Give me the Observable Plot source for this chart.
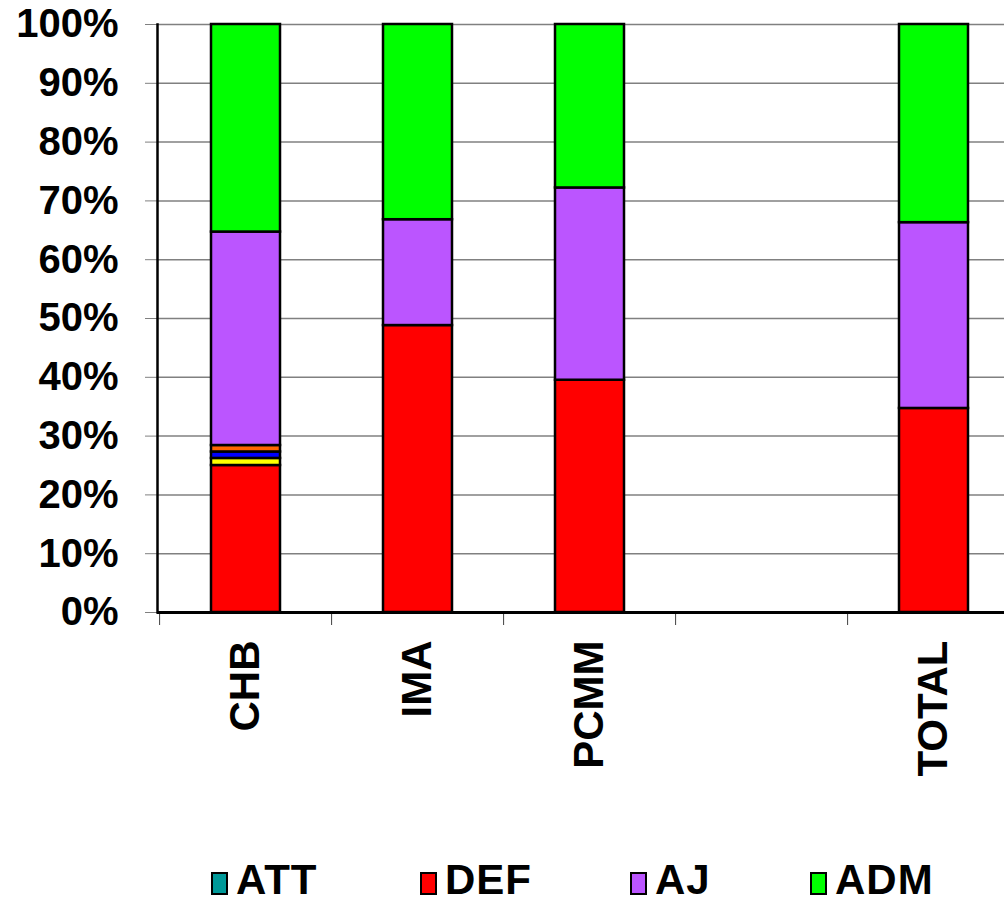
<!DOCTYPE html>
<html>
<head>
<meta charset="utf-8">
<script src="https://cdn.jsdelivr.net/npm/d3@7"></script>
<script src="https://cdn.jsdelivr.net/npm/@observablehq/plot@0.6"></script>
<style>
  html, body { margin: 0; padding: 0; background: #fff; }
  #wrap { position: relative; width: 1004px; height: 904px; font-family: "Liberation Sans", Arial, sans-serif; font-weight: bold; }
  #legend .item { position: absolute; top: 857px; display: flex; align-items: center; height: 46px; }
  #legend .sw { width: 13px; height: 19px; border: 2px solid #000; margin-right: 8px; margin-top: 6px; }
  #legend .lb { font-size: 42px; line-height: 46px; letter-spacing: 1px; color: #000; white-space: nowrap; }
</style>
</head>
<body>
<div id="wrap">
  <div id="chart"></div>
  <div id="legend"></div>
</div>
<script>
// Categories along the x axis (the fourth slot is left empty)
const categories = ["CHB", "IMA", "PCMM", "", "TOTAL"];

// Share of each series per category, in percent
const ATT  = [0, 0, 0, 0, 0];
const DEF  = [25.0, 48.8, 39.5, 0, 34.7];
const S5   = [1.2, 0, 0, 0, 0];
const S6   = [1.1, 0, 0, 0, 0];
const S7   = [1.1, 0, 0, 0, 0];
const AJ   = [36.3, 18.0, 32.7, 0, 31.6];
const ADM  = [35.3, 33.2, 27.8, 0, 33.7];

// Stacking order from the bottom up, and colours
const seriesNames  = ["ATT", "DEF", "S5", "S6", "S7", "AJ", "ADM"];
const seriesValues = [ATT, DEF, S5, S6, S7, AJ, ADM];
const seriesColors = ["#009999", "#FF0000", "#FFFF00", "#0000FF", "#FF6600", "#BB55FF", "#00FF00"];

// Legend entries
const legendNames = ["ATT", "DEF", "AJ", "ADM"];
const legendLeft  = [211, 420, 630, 810];

// Y axis ticks
const yTicks = [0, 10, 20, 30, 40, 50, 60, 70, 80, 90, 100];

const rows = [];
seriesNames.forEach((s, i) => {
  categories.forEach((c, j) => {
    const v = seriesValues[i][j];
    if (v > 0) rows.push({category: c, series: s, value: v});
  });
});

const xLeft = 157, xRight = 1021;
const step = (xRight - xLeft) / categories.length;

const chart = Plot.plot({
  width: 1004,
  height: 850,
  marginTop: 24,
  marginBottom: 238,
  marginLeft: xLeft,
  marginRight: 0,
  style: {fontFamily: "'Liberation Sans', Arial, sans-serif", fontWeight: "bold", color: "#000", background: "#fff"},
  x: {domain: categories, range: [xLeft, xRight], paddingInner: 0.6, paddingOuter: 0.3, align: 0.5},
  y: {domain: [0, 100]},
  color: {domain: seriesNames, range: seriesColors},
  marks: [
    Plot.gridY(yTicks, {stroke: "#808080", strokeOpacity: 1, strokeWidth: 1.5}),
    Plot.barY(rows, {
      x: "category", y: "value", fill: "series",
      stroke: "#000", strokeWidth: 2.5,
      order: seriesNames
    }),
    Plot.axisY(yTicks, {
      tickSize: 12, tickPadding: 27, stroke: "#808080",
      tickFormat: d => d + "%", fontSize: 40, label: null
    }),
    // boundary ticks between category slots
    Plot.axisX({tickSize: 13, tickFormat: () => "", dx: -step / 2, stroke: "#404040", label: null}),
    Plot.axisX({tickSize: 0, tickPadding: 28, tickRotate: -90, fontSize: 42, label: null}),
    Plot.frame({anchor: "left", stroke: "#000", strokeWidth: 2.5}),
    Plot.ruleY([0], {stroke: "#000", strokeWidth: 3})
  ]
});
document.getElementById("chart").appendChild(chart);

const legend = document.getElementById("legend");
legendNames.forEach((name, i) => {
  const item = document.createElement("div");
  item.className = "item";
  item.style.left = legendLeft[i] + "px";
  const sw = document.createElement("div");
  sw.className = "sw";
  sw.style.background = seriesColors[seriesNames.indexOf(name)];
  const lb = document.createElement("div");
  lb.className = "lb";
  lb.textContent = name;
  item.appendChild(sw);
  item.appendChild(lb);
  legend.appendChild(item);
});
</script>
</body>
</html>
